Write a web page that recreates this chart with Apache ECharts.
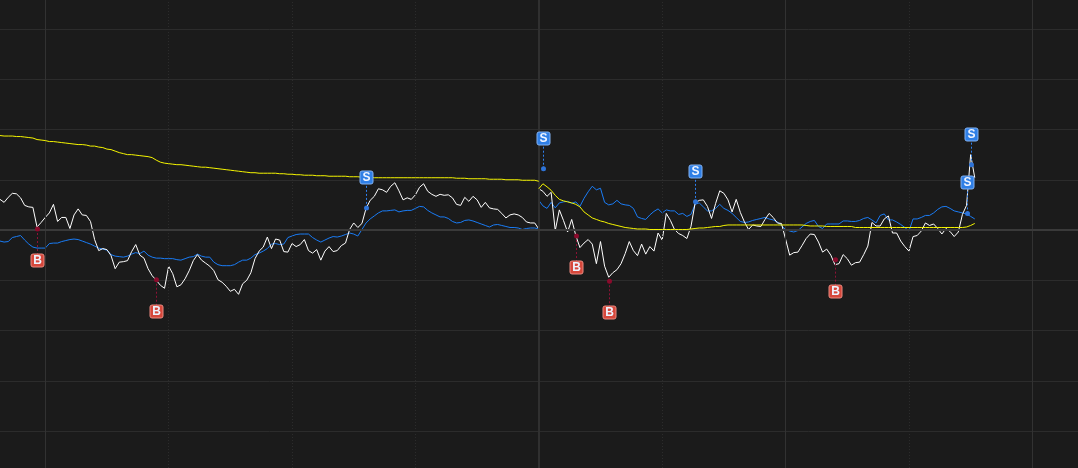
<!DOCTYPE html>
<html>
<head>
<meta charset="utf-8">
<script src="https://cdn.jsdelivr.net/npm/echarts@6/dist/echarts.min.js"></script>
<style>
html,body{margin:0;padding:0;background:#1b1b1b;}
#chart{width:1078px;height:468px;}
</style>
</head>
<body>
<div id="chart"></div>
<script>
// Minute index, two trading days; day 2 starts at index 131
const day2Start = 131;
const xMax = 262.1;   // visible end of the time axis (minute index)
// Price change in %, day 1 (index 0..131)
const whiteDay1 = [0.61,0.55,0.65,0.73,0.72,0.64,0.49,0.46,0.45,0.06,
 0.15,0.25,0.34,0.51,0.17,0.25,0.25,0.03,0.30,0.42,
 0.30,0.29,0.17,-0.19,-0.41,-0.37,-0.39,-0.51,-0.77,-0.64,
 -0.63,-0.61,-0.43,-0.29,-0.50,-0.56,-0.77,-0.91,-1.00,-1.10,
 -1.16,-0.72,-0.87,-1.13,-1.09,-0.97,-0.81,-0.61,-0.49,-0.60,
 -0.66,-0.72,-0.81,-0.99,-1.04,-1.12,-1.22,-1.18,-1.28,-1.07,
 -1.00,-0.85,-0.57,-0.42,-0.34,-0.14,-0.37,-0.18,-0.20,-0.43,
 -0.44,-0.27,-0.33,-0.29,-0.19,-0.41,-0.46,-0.39,-0.60,-0.42,
 -0.33,-0.43,-0.41,-0.31,-0.26,0.01,0.14,0.05,0.13,0.43,
 0.59,0.67,0.82,0.80,0.75,0.87,0.94,0.78,0.60,0.64,
 0.61,0.70,0.85,0.92,0.77,0.71,0.67,0.71,0.69,0.70,
 0.64,0.51,0.49,0.65,0.57,0.67,0.60,0.45,0.55,0.44,
 0.42,0.41,0.33,0.24,0.30,0.32,0.30,0.25,0.16,0.14,
 0.14,0.02];
const whiteDay2 = [0.82,0.77,0.67,0.75,-0.01,0.40,0.19,-0.04,0.21,-0.11,
 -0.35,-0.26,-0.19,-0.28,-0.67,-0.23,-0.72,-0.94,-0.85,-0.79,
 -0.67,-0.47,-0.23,-0.41,-0.51,-0.28,-0.48,-0.33,-0.42,-0.06,
 -0.20,0.33,0.19,0.01,-0.07,-0.11,-0.17,0.07,0.53,0.59,
 0.60,0.47,0.23,0.53,0.78,0.73,0.60,0.36,0.61,0.35,
 0.16,0.01,0.10,0.08,0.07,0.21,0.33,0.25,0.14,0.13,
 -0.18,-0.50,-0.45,-0.44,-0.31,-0.17,-0.08,-0.09,-0.24,-0.44,
 -0.38,-0.50,-0.69,-0.67,-0.49,-0.57,-0.70,-0.65,-0.64,-0.49,
 -0.32,0.15,0.08,0.08,0.22,0.28,-0.06,-0.06,-0.22,-0.33,
 -0.42,-0.13,-0.11,-0.02,0.14,0.09,0.12,0.03,-0.08,0.03,
 -0.03,-0.13,-0.04,0.31,0.49,1.50,1.04];
const blueDay1 = [-0.22,-0.24,-0.23,-0.15,-0.13,-0.11,-0.20,-0.28,-0.34,-0.36,
 -0.36,-0.36,-0.27,-0.26,-0.26,-0.23,-0.21,-0.19,-0.18,-0.19,
 -0.22,-0.25,-0.28,-0.32,-0.36,-0.38,-0.40,-0.49,-0.52,-0.53,
 -0.54,-0.52,-0.48,-0.45,-0.47,-0.42,-0.50,-0.54,-0.56,-0.56,
 -0.57,-0.57,-0.57,-0.59,-0.60,-0.57,-0.54,-0.53,-0.48,-0.52,
 -0.54,-0.54,-0.64,-0.69,-0.71,-0.71,-0.71,-0.69,-0.64,-0.60,
 -0.60,-0.56,-0.49,-0.46,-0.42,-0.37,-0.28,-0.27,-0.29,-0.28,
 -0.15,-0.12,-0.09,-0.08,-0.08,-0.08,-0.15,-0.20,-0.24,-0.20,
 -0.16,-0.13,-0.14,-0.12,-0.09,-0.06,-0.08,-0.12,0.01,0.14,
 0.22,0.28,0.34,0.38,0.38,0.39,0.40,0.36,0.38,0.39,
 0.39,0.43,0.47,0.46,0.39,0.34,0.30,0.26,0.26,0.23,
 0.17,0.14,0.15,0.19,0.20,0.18,0.15,0.12,0.09,0.06,
 0.10,0.11,0.09,0.07,0.05,0.05,0.04,0.01,0.03,0.04,
 0.04,0.02];
const blueDay2 = [0.59,0.48,0.43,0.55,0.44,0.54,0.56,0.57,0.53,0.56,
 0.47,0.63,0.76,0.87,0.80,0.83,0.55,0.50,0.52,0.59,
 0.52,0.50,0.49,0.43,0.26,0.23,0.21,0.30,0.37,0.42,
 0.34,0.40,0.38,0.38,0.31,0.33,0.27,0.31,0.51,0.54,
 0.46,0.38,0.38,0.43,0.51,0.43,0.39,0.33,0.25,0.17,
 0.15,0.16,0.19,0.21,0.23,0.25,0.22,0.20,0.16,0.09,
 0.01,-0.02,-0.04,-0.01,0.06,0.13,0.17,0.19,0.07,0.03,
 0.12,0.12,0.12,0.12,0.18,0.18,0.17,0.17,0.19,0.23,
 0.25,0.20,0.14,0.29,0.32,0.20,0.20,0.16,0.11,0.05,
 -0.02,0.22,0.22,0.25,0.29,0.29,0.34,0.41,0.46,0.47,
 0.43,0.38,0.36,0.34,0.32,0.27,0.22];
const avgDay1 = [1.88,1.87,1.87,1.87,1.86,1.86,1.85,1.84,1.83,1.80,
 1.79,1.78,1.76,1.76,1.75,1.74,1.73,1.72,1.71,1.70,
 1.70,1.69,1.67,1.67,1.65,1.64,1.61,1.60,1.57,1.54,
 1.52,1.50,1.50,1.49,1.48,1.47,1.46,1.44,1.39,1.35,
 1.33,1.32,1.31,1.30,1.30,1.29,1.28,1.27,1.26,1.25,
 1.25,1.24,1.23,1.22,1.21,1.20,1.19,1.18,1.17,1.16,
 1.15,1.14,1.14,1.13,1.13,1.13,1.13,1.13,1.12,1.12,
 1.11,1.11,1.10,1.10,1.09,1.09,1.09,1.08,1.08,1.08,
 1.07,1.07,1.07,1.07,1.07,1.06,1.06,1.06,1.05,1.05,
 1.05,1.04,1.04,1.04,1.04,1.04,1.04,1.04,1.04,1.04,
 1.04,1.04,1.04,1.04,1.04,1.04,1.04,1.04,1.04,1.04,
 1.04,1.03,1.03,1.03,1.02,1.02,1.02,1.02,1.02,1.01,
 1.01,1.01,1.01,1.00,1.00,1.00,1.00,0.99,0.99,0.99,
 0.99,0.97];
const avgDay2 = [0.82,0.92,0.86,0.79,0.69,0.61,0.58,0.56,0.54,0.51,
 0.46,0.36,0.30,0.24,0.21,0.18,0.16,0.13,0.11,0.09,
 0.07,0.05,0.04,0.03,0.02,0.02,0.02,0.01,0.01,0.01,
 0.01,0.01,0.01,0.01,0.01,0.01,0.01,0.02,0.03,0.04,
 0.04,0.05,0.06,0.07,0.07,0.09,0.10,0.10,0.10,0.10,
 0.10,0.10,0.10,0.10,0.10,0.10,0.10,0.10,0.10,0.10,
 0.10,0.10,0.10,0.10,0.10,0.09,0.08,0.08,0.08,0.08,
 0.07,0.07,0.07,0.07,0.07,0.07,0.07,0.05,0.05,0.05,
 0.05,0.05,0.05,0.05,0.05,0.05,0.05,0.05,0.05,0.05,
 0.05,0.05,0.05,0.05,0.05,0.05,0.05,0.05,0.05,0.05,
 0.05,0.05,0.05,0.05,0.06,0.09,0.13];
// Buy / sell signals
const signalIdx  = [9, 38, 89, 132, 140, 148, 169, 203, 235, 236];
const signalVal  = [0.02, -0.99, 0.44, 1.22, -0.12, -1.02, 0.56, -0.59, 0.33, 1.30];
const signalType = ['B','B','S','S','B','B','S','B','S','S'];
// Time grid lines (minute index)
const solidLines = [11, 191, 251];
const dayLines = [131];
const dottedLines = [41, 71, 101, 161, 221];

function pairs(arr, start){ return arr.map((v, k) => [start + k, v]); }

const chart = echarts.init(document.getElementById('chart'), null, {renderer: 'canvas'});
const lineBase = {type: 'line', xAxisIndex: 1, yAxisIndex: 1, showSymbol: false, symbol: 'none',
  animation: false, silent: true};

const vLines = []
  .concat(solidLines.map(x => ({xAxis: x, lineStyle: {color: '#323232', width: 1, type: 'solid'}})))
  .concat(dayLines.map(x => ({xAxis: x, lineStyle: {color: '#303030', width: 2, type: 'solid'}})))
  .concat(dottedLines.map(x => ({xAxis: x, lineStyle: {color: '#2c2c2c', width: 1, type: [1, 2]}})));

chart.setOption({
  backgroundColor: '#1b1b1b',
  animation: false,
  grid: [
    {left: 0, right: 0, top: 0, bottom: 0},
    {left: 0, right: 0, top: 29, bottom: 37}
  ],
  xAxis: [
    {type: 'value', gridIndex: 0, min: 0, max: xMax, show: false, splitLine: {show: false}},
    {type: 'value', gridIndex: 1, min: 0, max: xMax, show: false, splitLine: {show: false}}
  ],
  yAxis: [
    {type: 'value', gridIndex: 0, min: 0, max: 1, show: false, splitLine: {show: false}},
    {type: 'value', gridIndex: 1, min: -4, max: 4, interval: 1,
      axisLine: {show: false}, axisTick: {show: false}, axisLabel: {show: false},
      splitLine: {show: true, lineStyle: {color: '#2c2c2c', width: 1}}}
  ],
  series: [
    {type: 'line', xAxisIndex: 0, yAxisIndex: 0, data: [], silent: true, z: 1,
      markLine: {silent: true, symbol: 'none', label: {show: false}, animation: false, data: vLines}},
    Object.assign({}, lineBase, {name: 'zero', data: [], z: 1,
      markLine: {silent: true, symbol: 'none', label: {show: false}, animation: false,
        lineStyle: {color: '#3a3a3a', width: 2, type: 'solid'}, data: [{yAxis: 0}]}}),
    Object.assign({}, lineBase, {data: pairs(blueDay1, 0), lineStyle: {color: '#1a7cf5', width: 1}, z: 3}),
    Object.assign({}, lineBase, {data: pairs(blueDay2, day2Start), lineStyle: {color: '#1a7cf5', width: 1}, z: 3}),
    Object.assign({}, lineBase, {data: pairs(whiteDay1, 0), lineStyle: {color: '#ffffff', width: 1}, z: 4}),
    Object.assign({}, lineBase, {data: pairs(whiteDay2, day2Start), lineStyle: {color: '#ffffff', width: 1}, z: 4}),
    Object.assign({}, lineBase, {data: pairs(avgDay1, 0), lineStyle: {color: '#f5f500', width: 1}, z: 5}),
    Object.assign({}, lineBase, {data: pairs(avgDay2, day2Start), lineStyle: {color: '#f5f500', width: 1}, z: 5}),
    {
      type: 'custom', xAxisIndex: 1, yAxisIndex: 1, z: 10, silent: true, animation: false, clip: false,
      data: signalIdx.map((x, k) => [x, signalVal[k]]),
      renderItem: function(params, api){
        const k = params.dataIndex;
        const p = api.coord([api.value(0), api.value(1)]);
        const isS = signalType[k] === 'S';
        const cx = Math.round(p[0]) + 0.5;
        const cy = Math.round(p[1] + (isS ? -31 : 31)) + 0.5;
        const half = 6.5;
        return {type: 'group', children: [
          {type: 'line', shape: {x1: cx, y1: p[1], x2: cx, y2: cy + (isS ? half : -half)},
            style: {stroke: isS ? '#2f80ed' : '#8d1236', lineWidth: 1, lineDash: [2, 2]}},
          {type: 'circle', shape: {cx: cx, cy: p[1], r: 2.5},
            style: {fill: isS ? '#2f74d8' : '#8a0b2c'}},
          {type: 'rect', shape: {x: cx - half, y: cy - half, width: 13, height: 13, r: 2},
            style: {fill: isS ? '#2f7fe6' : '#d5473b', stroke: isS ? '#82b2f2' : '#eb8a80', lineWidth: 1}},
          {type: 'text', style: {text: signalType[k], x: cx, y: cy + 0.5, align: 'center', verticalAlign: 'middle',
            fill: '#eef4ff', font: 'bold 12px "Liberation Sans", Arial, sans-serif'}}
        ]};
      }
    }
  ]
});
</script>
</body>
</html>
